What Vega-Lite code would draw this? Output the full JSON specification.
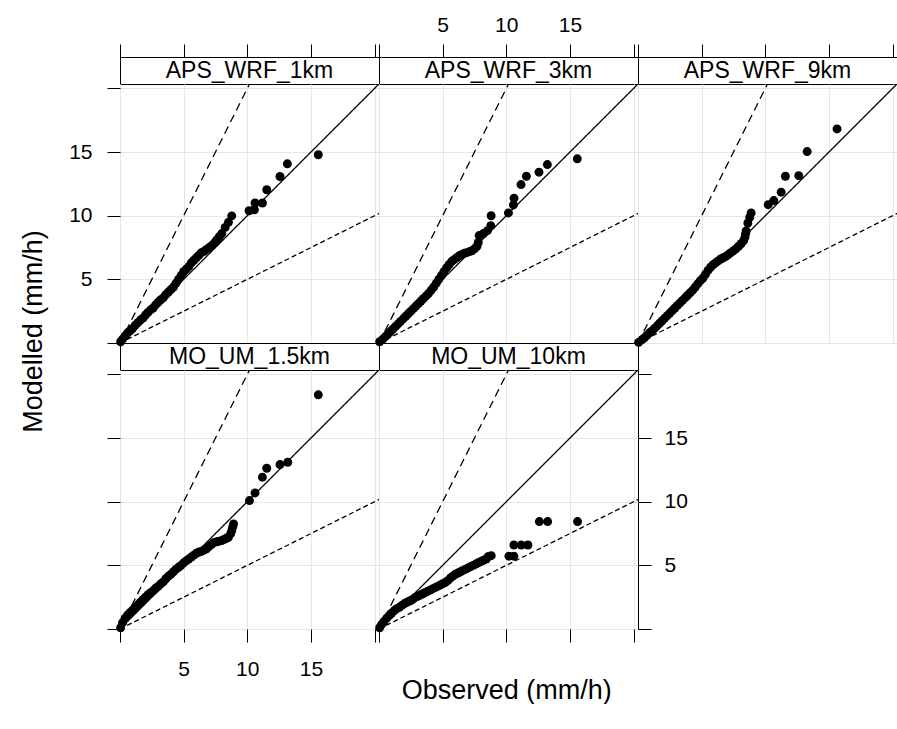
{
  "$schema": "https://vega.github.io/schema/vega-lite/v6.json",
  "padding": {"left": 20, "top": 13, "right": 0, "bottom": 0},
  "background": "white",
  "config": {
    "font": "Liberation Sans",
    "view": {"stroke": "black", "strokeWidth": 1},
    "axis": {"domain": false, "tickColor": "black", "tickWidth": 1, "labelColor": "black", "labelFont": "Liberation Sans", "labelFontSize": 21, "gridColor": "#e6e6e6", "gridWidth": 1, "tickSize": 13, "labelFlush": false, "labelOverlap": false},
    "concat": {"spacing": 0},
    "title": {"font": "Liberation Sans", "fontSize": 27, "fontWeight": "normal", "color": "black"}
  },
  "datasets": {
    "lines": [
      {"k": "1:1", "x": 0, "y": 0}, {"k": "1:1", "x": 21, "y": 21},
      {"k": "2:1", "x": 0, "y": 0}, {"k": "2:1", "x": 10.5, "y": 21},
      {"k": "1:2", "x": 0, "y": 0}, {"k": "1:2", "x": 21, "y": 10.5}
    ],
    "pts": [
      {"p":"APS_WRF_1km","o":0.05,"m":0.1},{"p":"APS_WRF_1km","o":0.2,"m":0.3},{"p":"APS_WRF_1km","o":0.4,"m":0.55},{"p":"APS_WRF_1km","o":0.6,"m":0.8},{"p":"APS_WRF_1km","o":0.8,"m":0.95},{"p":"APS_WRF_1km","o":1.0,"m":1.15},{"p":"APS_WRF_1km","o":1.2,"m":1.4},{"p":"APS_WRF_1km","o":1.4,"m":1.6},{"p":"APS_WRF_1km","o":1.6,"m":1.8},{"p":"APS_WRF_1km","o":1.8,"m":1.95},{"p":"APS_WRF_1km","o":2.0,"m":2.2},{"p":"APS_WRF_1km","o":2.2,"m":2.4},{"p":"APS_WRF_1km","o":2.4,"m":2.6},{"p":"APS_WRF_1km","o":2.6,"m":2.75},{"p":"APS_WRF_1km","o":2.8,"m":3.0},{"p":"APS_WRF_1km","o":3.0,"m":3.2},{"p":"APS_WRF_1km","o":3.2,"m":3.4},{"p":"APS_WRF_1km","o":3.4,"m":3.55},{"p":"APS_WRF_1km","o":3.6,"m":3.8},{"p":"APS_WRF_1km","o":3.8,"m":4.0},{"p":"APS_WRF_1km","o":4.0,"m":4.2},{"p":"APS_WRF_1km","o":4.2,"m":4.4},{"p":"APS_WRF_1km","o":4.4,"m":4.7},{"p":"APS_WRF_1km","o":4.6,"m":5.0},{"p":"APS_WRF_1km","o":4.8,"m":5.3},{"p":"APS_WRF_1km","o":5.0,"m":5.6},{"p":"APS_WRF_1km","o":5.2,"m":5.8},{"p":"APS_WRF_1km","o":5.4,"m":6.0},{"p":"APS_WRF_1km","o":5.6,"m":6.3},{"p":"APS_WRF_1km","o":5.8,"m":6.5},{"p":"APS_WRF_1km","o":6.0,"m":6.7},{"p":"APS_WRF_1km","o":6.2,"m":6.9},{"p":"APS_WRF_1km","o":6.4,"m":7.1},{"p":"APS_WRF_1km","o":6.6,"m":7.2},{"p":"APS_WRF_1km","o":6.8,"m":7.35},{"p":"APS_WRF_1km","o":7.0,"m":7.5},{"p":"APS_WRF_1km","o":7.2,"m":7.65},{"p":"APS_WRF_1km","o":7.4,"m":7.85},{"p":"APS_WRF_1km","o":7.6,"m":8.1},{"p":"APS_WRF_1km","o":7.8,"m":8.35},{"p":"APS_WRF_1km","o":8.0,"m":8.6},{"p":"APS_WRF_1km","o":8.26,"m":9.08},{"p":"APS_WRF_1km","o":8.52,"m":9.48},{"p":"APS_WRF_1km","o":8.78,"m":9.99},{"p":"APS_WRF_1km","o":10.14,"m":10.39},{"p":"APS_WRF_1km","o":10.56,"m":10.47},{"p":"APS_WRF_1km","o":10.61,"m":11.0},{"p":"APS_WRF_1km","o":11.19,"m":11.0},{"p":"APS_WRF_1km","o":11.53,"m":12.04},{"p":"APS_WRF_1km","o":12.57,"m":13.08},{"p":"APS_WRF_1km","o":13.15,"m":14.08},{"p":"APS_WRF_1km","o":15.58,"m":14.79},

      {"p":"APS_WRF_3km","o":0.05,"m":0.1},{"p":"APS_WRF_3km","o":0.3,"m":0.3},{"p":"APS_WRF_3km","o":0.5,"m":0.5},{"p":"APS_WRF_3km","o":0.7,"m":0.7},{"p":"APS_WRF_3km","o":0.9,"m":0.9},{"p":"APS_WRF_3km","o":1.1,"m":1.1},{"p":"APS_WRF_3km","o":1.3,"m":1.3},{"p":"APS_WRF_3km","o":1.5,"m":1.5},{"p":"APS_WRF_3km","o":1.7,"m":1.7},{"p":"APS_WRF_3km","o":1.9,"m":1.9},{"p":"APS_WRF_3km","o":2.1,"m":2.1},{"p":"APS_WRF_3km","o":2.3,"m":2.3},{"p":"APS_WRF_3km","o":2.5,"m":2.5},{"p":"APS_WRF_3km","o":2.7,"m":2.7},{"p":"APS_WRF_3km","o":2.9,"m":2.9},{"p":"APS_WRF_3km","o":3.1,"m":3.1},{"p":"APS_WRF_3km","o":3.3,"m":3.3},{"p":"APS_WRF_3km","o":3.5,"m":3.5},{"p":"APS_WRF_3km","o":3.7,"m":3.7},{"p":"APS_WRF_3km","o":3.9,"m":3.9},{"p":"APS_WRF_3km","o":4.1,"m":4.15},{"p":"APS_WRF_3km","o":4.3,"m":4.4},{"p":"APS_WRF_3km","o":4.5,"m":4.7},{"p":"APS_WRF_3km","o":4.7,"m":5.0},{"p":"APS_WRF_3km","o":4.9,"m":5.3},{"p":"APS_WRF_3km","o":5.1,"m":5.6},{"p":"APS_WRF_3km","o":5.3,"m":5.9},{"p":"APS_WRF_3km","o":5.5,"m":6.15},{"p":"APS_WRF_3km","o":5.7,"m":6.4},{"p":"APS_WRF_3km","o":5.9,"m":6.55},{"p":"APS_WRF_3km","o":6.1,"m":6.7},{"p":"APS_WRF_3km","o":6.3,"m":6.85},{"p":"APS_WRF_3km","o":6.5,"m":6.95},{"p":"APS_WRF_3km","o":6.7,"m":7.05},{"p":"APS_WRF_3km","o":6.9,"m":7.1},{"p":"APS_WRF_3km","o":7.1,"m":7.18},{"p":"APS_WRF_3km","o":7.3,"m":7.25},{"p":"APS_WRF_3km","o":7.5,"m":7.4},{"p":"APS_WRF_3km","o":7.7,"m":7.6},{"p":"APS_WRF_3km","o":7.8,"m":7.9},{"p":"APS_WRF_3km","o":7.87,"m":8.44},{"p":"APS_WRF_3km","o":8.2,"m":8.6},{"p":"APS_WRF_3km","o":8.52,"m":8.83},{"p":"APS_WRF_3km","o":8.78,"m":9.22},{"p":"APS_WRF_3km","o":8.81,"m":10.0},{"p":"APS_WRF_3km","o":10.17,"m":10.22},{"p":"APS_WRF_3km","o":10.56,"m":10.85},{"p":"APS_WRF_3km","o":10.61,"m":11.38},{"p":"APS_WRF_3km","o":11.16,"m":12.45},{"p":"APS_WRF_3km","o":11.58,"m":13.1},{"p":"APS_WRF_3km","o":12.57,"m":13.42},{"p":"APS_WRF_3km","o":13.23,"m":14.02},{"p":"APS_WRF_3km","o":15.58,"m":14.47},

      {"p":"APS_WRF_9km","o":0.05,"m":0.05},{"p":"APS_WRF_9km","o":0.3,"m":0.25},{"p":"APS_WRF_9km","o":0.5,"m":0.4},{"p":"APS_WRF_9km","o":0.7,"m":0.6},{"p":"APS_WRF_9km","o":0.9,"m":0.8},{"p":"APS_WRF_9km","o":1.1,"m":0.95},{"p":"APS_WRF_9km","o":1.3,"m":1.15},{"p":"APS_WRF_9km","o":1.5,"m":1.35},{"p":"APS_WRF_9km","o":1.7,"m":1.55},{"p":"APS_WRF_9km","o":1.9,"m":1.75},{"p":"APS_WRF_9km","o":2.1,"m":1.95},{"p":"APS_WRF_9km","o":2.3,"m":2.15},{"p":"APS_WRF_9km","o":2.5,"m":2.35},{"p":"APS_WRF_9km","o":2.7,"m":2.55},{"p":"APS_WRF_9km","o":2.9,"m":2.75},{"p":"APS_WRF_9km","o":3.1,"m":2.95},{"p":"APS_WRF_9km","o":3.3,"m":3.15},{"p":"APS_WRF_9km","o":3.5,"m":3.35},{"p":"APS_WRF_9km","o":3.7,"m":3.55},{"p":"APS_WRF_9km","o":3.9,"m":3.75},{"p":"APS_WRF_9km","o":4.1,"m":3.95},{"p":"APS_WRF_9km","o":4.3,"m":4.15},{"p":"APS_WRF_9km","o":4.5,"m":4.4},{"p":"APS_WRF_9km","o":4.7,"m":4.65},{"p":"APS_WRF_9km","o":4.9,"m":4.9},{"p":"APS_WRF_9km","o":5.1,"m":5.1},{"p":"APS_WRF_9km","o":5.3,"m":5.4},{"p":"APS_WRF_9km","o":5.5,"m":5.7},{"p":"APS_WRF_9km","o":5.7,"m":5.95},{"p":"APS_WRF_9km","o":5.9,"m":6.15},{"p":"APS_WRF_9km","o":6.1,"m":6.3},{"p":"APS_WRF_9km","o":6.3,"m":6.45},{"p":"APS_WRF_9km","o":6.5,"m":6.6},{"p":"APS_WRF_9km","o":6.7,"m":6.7},{"p":"APS_WRF_9km","o":6.9,"m":6.8},{"p":"APS_WRF_9km","o":7.1,"m":6.95},{"p":"APS_WRF_9km","o":7.3,"m":7.1},{"p":"APS_WRF_9km","o":7.5,"m":7.25},{"p":"APS_WRF_9km","o":7.7,"m":7.4},{"p":"APS_WRF_9km","o":7.9,"m":7.6},{"p":"APS_WRF_9km","o":8.1,"m":7.8},{"p":"APS_WRF_9km","o":8.3,"m":8.05},{"p":"APS_WRF_9km","o":8.4,"m":8.3},{"p":"APS_WRF_9km","o":8.45,"m":8.57},{"p":"APS_WRF_9km","o":8.5,"m":8.8},{"p":"APS_WRF_9km","o":8.63,"m":9.43},{"p":"APS_WRF_9km","o":8.78,"m":9.88},{"p":"APS_WRF_9km","o":8.89,"m":10.22},{"p":"APS_WRF_9km","o":10.23,"m":10.87},{"p":"APS_WRF_9km","o":10.67,"m":11.19},{"p":"APS_WRF_9km","o":11.25,"m":11.85},{"p":"APS_WRF_9km","o":11.58,"m":13.1},{"p":"APS_WRF_9km","o":12.63,"m":13.15},{"p":"APS_WRF_9km","o":13.29,"m":15.04},{"p":"APS_WRF_9km","o":15.64,"m":16.82},

      {"p":"MO_UM_1.5km","o":0.05,"m":0.1},{"p":"MO_UM_1.5km","o":0.2,"m":0.5},{"p":"MO_UM_1.5km","o":0.4,"m":0.85},{"p":"MO_UM_1.5km","o":0.6,"m":1.1},{"p":"MO_UM_1.5km","o":0.8,"m":1.3},{"p":"MO_UM_1.5km","o":1.0,"m":1.5},{"p":"MO_UM_1.5km","o":1.2,"m":1.7},{"p":"MO_UM_1.5km","o":1.4,"m":1.9},{"p":"MO_UM_1.5km","o":1.6,"m":2.1},{"p":"MO_UM_1.5km","o":1.8,"m":2.3},{"p":"MO_UM_1.5km","o":2.0,"m":2.5},{"p":"MO_UM_1.5km","o":2.2,"m":2.7},{"p":"MO_UM_1.5km","o":2.4,"m":2.85},{"p":"MO_UM_1.5km","o":2.6,"m":3.0},{"p":"MO_UM_1.5km","o":2.8,"m":3.2},{"p":"MO_UM_1.5km","o":3.0,"m":3.35},{"p":"MO_UM_1.5km","o":3.2,"m":3.55},{"p":"MO_UM_1.5km","o":3.4,"m":3.7},{"p":"MO_UM_1.5km","o":3.6,"m":3.95},{"p":"MO_UM_1.5km","o":3.8,"m":4.15},{"p":"MO_UM_1.5km","o":4.0,"m":4.3},{"p":"MO_UM_1.5km","o":4.2,"m":4.5},{"p":"MO_UM_1.5km","o":4.4,"m":4.7},{"p":"MO_UM_1.5km","o":4.6,"m":4.85},{"p":"MO_UM_1.5km","o":4.8,"m":5.0},{"p":"MO_UM_1.5km","o":5.0,"m":5.2},{"p":"MO_UM_1.5km","o":5.2,"m":5.35},{"p":"MO_UM_1.5km","o":5.4,"m":5.5},{"p":"MO_UM_1.5km","o":5.6,"m":5.65},{"p":"MO_UM_1.5km","o":5.8,"m":5.8},{"p":"MO_UM_1.5km","o":6.0,"m":5.95},{"p":"MO_UM_1.5km","o":6.2,"m":6.05},{"p":"MO_UM_1.5km","o":6.4,"m":6.1},{"p":"MO_UM_1.5km","o":6.6,"m":6.2},{"p":"MO_UM_1.5km","o":6.8,"m":6.3},{"p":"MO_UM_1.5km","o":7.0,"m":6.5},{"p":"MO_UM_1.5km","o":7.2,"m":6.65},{"p":"MO_UM_1.5km","o":7.4,"m":6.8},{"p":"MO_UM_1.5km","o":7.6,"m":6.85},{"p":"MO_UM_1.5km","o":7.8,"m":6.9},{"p":"MO_UM_1.5km","o":8.0,"m":6.95},{"p":"MO_UM_1.5km","o":8.2,"m":7.05},{"p":"MO_UM_1.5km","o":8.4,"m":7.15},{"p":"MO_UM_1.5km","o":8.52,"m":7.21},{"p":"MO_UM_1.5km","o":8.7,"m":7.5},{"p":"MO_UM_1.5km","o":8.78,"m":7.73},{"p":"MO_UM_1.5km","o":8.85,"m":8.0},{"p":"MO_UM_1.5km","o":8.92,"m":8.25},{"p":"MO_UM_1.5km","o":10.17,"m":10.09},{"p":"MO_UM_1.5km","o":10.61,"m":10.69},{"p":"MO_UM_1.5km","o":11.19,"m":11.93},{"p":"MO_UM_1.5km","o":11.53,"m":12.63},{"p":"MO_UM_1.5km","o":12.57,"m":12.92},{"p":"MO_UM_1.5km","o":13.18,"m":13.1},{"p":"MO_UM_1.5km","o":15.58,"m":18.4},

      {"p":"MO_UM_10km","o":0.05,"m":0.1},{"p":"MO_UM_10km","o":0.2,"m":0.35},{"p":"MO_UM_10km","o":0.4,"m":0.6},{"p":"MO_UM_10km","o":0.6,"m":0.85},{"p":"MO_UM_10km","o":0.8,"m":1.05},{"p":"MO_UM_10km","o":1.0,"m":1.25},{"p":"MO_UM_10km","o":1.2,"m":1.45},{"p":"MO_UM_10km","o":1.4,"m":1.6},{"p":"MO_UM_10km","o":1.6,"m":1.7},{"p":"MO_UM_10km","o":1.8,"m":1.85},{"p":"MO_UM_10km","o":2.0,"m":2.0},{"p":"MO_UM_10km","o":2.2,"m":2.1},{"p":"MO_UM_10km","o":2.4,"m":2.2},{"p":"MO_UM_10km","o":2.6,"m":2.3},{"p":"MO_UM_10km","o":2.8,"m":2.45},{"p":"MO_UM_10km","o":3.0,"m":2.55},{"p":"MO_UM_10km","o":3.2,"m":2.65},{"p":"MO_UM_10km","o":3.4,"m":2.75},{"p":"MO_UM_10km","o":3.6,"m":2.85},{"p":"MO_UM_10km","o":3.8,"m":2.95},{"p":"MO_UM_10km","o":4.0,"m":3.05},{"p":"MO_UM_10km","o":4.2,"m":3.15},{"p":"MO_UM_10km","o":4.4,"m":3.25},{"p":"MO_UM_10km","o":4.6,"m":3.35},{"p":"MO_UM_10km","o":4.8,"m":3.45},{"p":"MO_UM_10km","o":5.0,"m":3.55},{"p":"MO_UM_10km","o":5.2,"m":3.65},{"p":"MO_UM_10km","o":5.4,"m":3.8},{"p":"MO_UM_10km","o":5.6,"m":4.0},{"p":"MO_UM_10km","o":5.8,"m":4.15},{"p":"MO_UM_10km","o":6.0,"m":4.3},{"p":"MO_UM_10km","o":6.2,"m":4.4},{"p":"MO_UM_10km","o":6.4,"m":4.5},{"p":"MO_UM_10km","o":6.6,"m":4.6},{"p":"MO_UM_10km","o":6.8,"m":4.7},{"p":"MO_UM_10km","o":7.0,"m":4.8},{"p":"MO_UM_10km","o":7.2,"m":4.9},{"p":"MO_UM_10km","o":7.4,"m":5.0},{"p":"MO_UM_10km","o":7.6,"m":5.1},{"p":"MO_UM_10km","o":7.8,"m":5.2},{"p":"MO_UM_10km","o":8.0,"m":5.3},{"p":"MO_UM_10km","o":8.2,"m":5.4},{"p":"MO_UM_10km","o":8.43,"m":5.5},{"p":"MO_UM_10km","o":8.6,"m":5.7},{"p":"MO_UM_10km","o":8.82,"m":5.76},{"p":"MO_UM_10km","o":10.21,"m":5.72},{"p":"MO_UM_10km","o":10.6,"m":5.72},{"p":"MO_UM_10km","o":10.6,"m":6.6},{"p":"MO_UM_10km","o":11.18,"m":6.6},{"p":"MO_UM_10km","o":11.7,"m":6.6},{"p":"MO_UM_10km","o":12.6,"m":8.44},{"p":"MO_UM_10km","o":13.25,"m":8.44},{"p":"MO_UM_10km","o":15.6,"m":8.44}
    ]
  },
  "title": {"text": "Observed (mm/h)", "orient": "bottom", "anchor": "middle", "offset": -2, "dx": 48},
  "spacing": 0,
  "vconcat": [
    {
      "title": {"text": "Modelled (mm/h)", "orient": "left", "anchor": "middle", "offset": 20, "dx": 15},
      "columns": 3,
      "spacing": 0,
      "bounds": "flush",
      "concat": [
        {"width": 259, "height": 27, "data": {"values": [{"name": "APS_WRF_1km"}]},
         "mark": {"type": "text", "fontSize": 23, "font": "Liberation Sans", "baseline": "middle", "color": "black"},
         "encoding": {"text": {"field": "name"}, "x": {"datum": 10.175, "type": "quantitative", "scale": {"domain": [0, 20.35], "nice": false, "zero": false}, "axis": {"orient": "top", "values": [0, 5, 10, 15, 20], "grid": false, "labels": false, "title": null}}}},
        {"width": 259, "height": 27, "data": {"values": [{"name": "APS_WRF_3km"}]},
         "mark": {"type": "text", "fontSize": 23, "font": "Liberation Sans", "baseline": "middle", "color": "black"},
         "encoding": {"text": {"field": "name"}, "x": {"datum": 10.175, "type": "quantitative", "scale": {"domain": [0, 20.35], "nice": false, "zero": false}, "axis": {"orient": "top", "values": [0, 5, 10, 15, 20], "grid": false, "labelPadding": 9, "title": null, "labelExpr": "datum.value == 0 || datum.value == 20 ? '' : datum.label"}}}},
        {"width": 259, "height": 27, "data": {"values": [{"name": "APS_WRF_9km"}]},
         "mark": {"type": "text", "fontSize": 23, "font": "Liberation Sans", "baseline": "middle", "color": "black"},
         "encoding": {"text": {"field": "name"}, "x": {"datum": 10.175, "type": "quantitative", "scale": {"domain": [0, 20.35], "nice": false, "zero": false}, "axis": {"orient": "top", "values": [0, 5, 10, 15, 20], "grid": false, "labels": false, "title": null}}}},

        {"width": 259, "height": 259, "layer": [
          {"data": {"name": "lines"}, "mark": {"type": "line", "clip": true, "color": "black", "strokeWidth": 1.3},
           "encoding": {
             "x": {"field": "x", "type": "quantitative", "title": null, "scale": {"domain": [0, 20.35], "nice": false, "zero": false}, "axis": {"values": [0, 5, 10, 15, 20], "grid": true, "ticks": false, "labels": false}},
             "y": {"field": "y", "type": "quantitative", "title": null, "scale": {"domain": [0, 20.35], "nice": false, "zero": false}, "axis": {"orient": "left", "values": [0, 5, 10, 15, 20], "grid": true, "labelPadding": 15, "labelExpr": "datum.value == 0 || datum.value == 20 ? '' : datum.label"}},
             "detail": {"field": "k"},
             "strokeDash": {"field": "k", "type": "nominal", "scale": {"domain": ["1:1", "2:1", "1:2"], "range": [[1, 0], [8, 5], [5, 3]]}, "legend": null}}},
          {"data": {"name": "pts"}, "transform": [{"filter": "datum.p == 'APS_WRF_1km'"}], "mark": {"type": "circle", "size": 80, "color": "black", "opacity": 1},
           "encoding": {"x": {"field": "o", "type": "quantitative", "title": null}, "y": {"field": "m", "type": "quantitative", "title": null}}}
        ]},
        {"width": 259, "height": 259, "layer": [
          {"data": {"name": "lines"}, "mark": {"type": "line", "clip": true, "color": "black", "strokeWidth": 1.3},
           "encoding": {
             "x": {"field": "x", "type": "quantitative", "title": null, "scale": {"domain": [0, 20.35], "nice": false, "zero": false}, "axis": {"values": [0, 5, 10, 15, 20], "grid": true, "ticks": false, "labels": false}},
             "y": {"field": "y", "type": "quantitative", "title": null, "scale": {"domain": [0, 20.35], "nice": false, "zero": false}, "axis": {"values": [0, 5, 10, 15, 20], "grid": true, "ticks": false, "labels": false}},
             "detail": {"field": "k"},
             "strokeDash": {"field": "k", "type": "nominal", "scale": {"domain": ["1:1", "2:1", "1:2"], "range": [[1, 0], [8, 5], [5, 3]]}, "legend": null}}},
          {"data": {"name": "pts"}, "transform": [{"filter": "datum.p == 'APS_WRF_3km'"}], "mark": {"type": "circle", "size": 80, "color": "black", "opacity": 1},
           "encoding": {"x": {"field": "o", "type": "quantitative", "title": null}, "y": {"field": "m", "type": "quantitative", "title": null}}}
        ]},
        {"width": 259, "height": 259, "layer": [
          {"data": {"name": "lines"}, "mark": {"type": "line", "clip": true, "color": "black", "strokeWidth": 1.3},
           "encoding": {
             "x": {"field": "x", "type": "quantitative", "title": null, "scale": {"domain": [0, 20.35], "nice": false, "zero": false}, "axis": {"values": [0, 5, 10, 15, 20], "grid": true, "ticks": false, "labels": false}},
             "y": {"field": "y", "type": "quantitative", "title": null, "scale": {"domain": [0, 20.35], "nice": false, "zero": false}, "axis": {"values": [0, 5, 10, 15, 20], "grid": true, "ticks": false, "labels": false}},
             "detail": {"field": "k"},
             "strokeDash": {"field": "k", "type": "nominal", "scale": {"domain": ["1:1", "2:1", "1:2"], "range": [[1, 0], [8, 5], [5, 3]]}, "legend": null}}},
          {"data": {"name": "pts"}, "transform": [{"filter": "datum.p == 'APS_WRF_9km'"}], "mark": {"type": "circle", "size": 80, "color": "black", "opacity": 1},
           "encoding": {"x": {"field": "o", "type": "quantitative", "title": null}, "y": {"field": "m", "type": "quantitative", "title": null}}}
        ]},

        {"width": 259, "height": 27, "data": {"values": [{"name": "MO_UM_1.5km"}]},
         "mark": {"type": "text", "fontSize": 23, "font": "Liberation Sans", "baseline": "middle", "color": "black"},
         "encoding": {"text": {"field": "name"}, "x": {"datum": 10.175, "type": "quantitative", "scale": {"domain": [0, 20.35], "nice": false, "zero": false}, "axis": null}}},
        {"width": 259, "height": 27, "data": {"values": [{"name": "MO_UM_10km"}]},
         "mark": {"type": "text", "fontSize": 23, "font": "Liberation Sans", "baseline": "middle", "color": "black"},
         "encoding": {"text": {"field": "name"}, "x": {"datum": 10.175, "type": "quantitative", "scale": {"domain": [0, 20.35], "nice": false, "zero": false}, "axis": null}}},
        {"width": 259, "height": 27, "view": {"stroke": null}, "data": {"values": [{"name": ""}]},
         "mark": {"type": "text", "fontSize": 22, "color": "black"},
         "encoding": {"text": {"field": "name"}}},

        {"width": 259, "height": 259, "layer": [
          {"data": {"name": "lines"}, "mark": {"type": "line", "clip": true, "color": "black", "strokeWidth": 1.3},
           "encoding": {
             "x": {"field": "x", "type": "quantitative", "title": null, "scale": {"domain": [0, 20.35], "nice": false, "zero": false}, "axis": {"orient": "bottom", "values": [0, 5, 10, 15, 20], "grid": true, "labelPadding": 16, "labelExpr": "datum.value == 0 || datum.value == 20 ? '' : datum.label"}},
             "y": {"field": "y", "type": "quantitative", "title": null, "scale": {"domain": [0, 20.35], "nice": false, "zero": false}, "axis": {"orient": "left", "values": [0, 5, 10, 15, 20], "grid": true, "labels": false}},
             "detail": {"field": "k"},
             "strokeDash": {"field": "k", "type": "nominal", "scale": {"domain": ["1:1", "2:1", "1:2"], "range": [[1, 0], [8, 5], [5, 3]]}, "legend": null}}},
          {"data": {"name": "pts"}, "transform": [{"filter": "datum.p == 'MO_UM_1.5km'"}], "mark": {"type": "circle", "size": 80, "color": "black", "opacity": 1},
           "encoding": {"x": {"field": "o", "type": "quantitative", "title": null}, "y": {"field": "m", "type": "quantitative", "title": null}}}
        ]},
        {"width": 259, "height": 259, "layer": [
          {"data": {"name": "lines"}, "mark": {"type": "line", "clip": true, "color": "black", "strokeWidth": 1.3},
           "encoding": {
             "x": {"field": "x", "type": "quantitative", "title": null, "scale": {"domain": [0, 20.35], "nice": false, "zero": false}, "axis": {"orient": "bottom", "values": [0, 5, 10, 15, 20], "grid": true, "labels": false}},
             "y": {"field": "y", "type": "quantitative", "title": null, "scale": {"domain": [0, 20.35], "nice": false, "zero": false}, "axis": {"orient": "right", "values": [0, 5, 10, 15, 20], "grid": true, "labelPadding": 13, "labelExpr": "datum.value == 0 || datum.value == 20 ? '' : datum.label"}},
             "detail": {"field": "k"},
             "strokeDash": {"field": "k", "type": "nominal", "scale": {"domain": ["1:1", "2:1", "1:2"], "range": [[1, 0], [8, 5], [5, 3]]}, "legend": null}}},
          {"data": {"name": "pts"}, "transform": [{"filter": "datum.p == 'MO_UM_10km'"}], "mark": {"type": "circle", "size": 80, "color": "black", "opacity": 1},
           "encoding": {"x": {"field": "o", "type": "quantitative", "title": null}, "y": {"field": "m", "type": "quantitative", "title": null}}}
        ]}
      ]
    }
  ]
}
